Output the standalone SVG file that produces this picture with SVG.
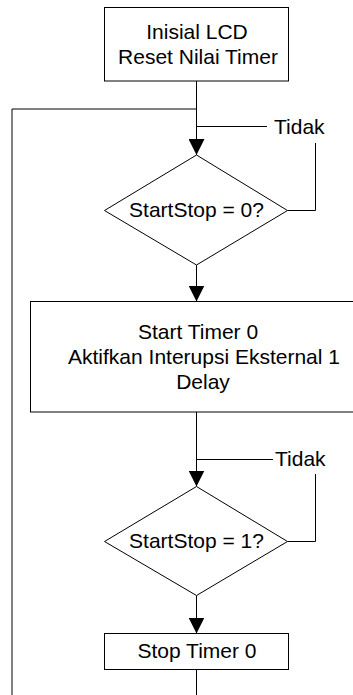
<svg xmlns="http://www.w3.org/2000/svg" width="353" height="695" viewBox="0 0 353 695">
<style>
.box{fill:#fff;stroke:#000;stroke-width:1}
.t{font-family:"Liberation Sans",Arial,sans-serif;font-size:21px;fill:#000;text-anchor:middle}
.tl{font-family:"Liberation Sans",Arial,sans-serif;font-size:21px;fill:#000;text-anchor:start}
.c{fill:none;stroke:#000;stroke-width:1}
</style>
<defs>
<marker id="arr" markerUnits="userSpaceOnUse" markerWidth="16" markerHeight="16" viewBox="0 0 15 15" refX="15" refY="7.5" orient="auto">
<path d="M0,0 L15,7.5 L0,15 Z" fill="#000"/>
</marker>
</defs>
<rect width="353" height="695" fill="#fff"/>
<g id="connectors">
<line class="c" x1="196.5" y1="81" x2="196.5" y2="155" marker-end="url(#arr)"/>
<polyline class="c" points="196.5,109 12,109 12,695"/>
<line class="c" x1="196.5" y1="126.5" x2="267" y2="126.5"/>
<polyline class="c" points="287.5,210.5 315.5,210.5 315.5,143"/>
<line class="c" x1="196.5" y1="265" x2="196.5" y2="301.5" marker-end="url(#arr)"/>
<line class="c" x1="196.5" y1="412" x2="196.5" y2="486.5" marker-end="url(#arr)"/>
<line class="c" x1="196.5" y1="459.5" x2="273" y2="459.5"/>
<polyline class="c" points="287.5,541.5 315.5,541.5 315.5,474"/>
<line class="c" x1="196.5" y1="595.5" x2="196.5" y2="633.5" marker-end="url(#arr)"/>
<line class="c" x1="196.5" y1="669.5" x2="196.5" y2="695"/>
<text class="tl" x="274" y="134">Tidak</text>
<text class="tl" x="275" y="466">Tidak</text>
</g>
<g id="init">
<rect class="box" x="104.5" y="7.5" width="184" height="73.5"/>
<text class="t" x="197" y="39">Inisial LCD</text>
<text class="t" x="198" y="64">Reset Nilai Timer</text>
</g>
<g id="cond0">
<polygon class="box" points="196.5,155 287.5,210.5 196.5,265 104.5,210.5"/>
<text class="t" x="196.5" y="217">StartStop = 0?</text>
</g>
<g id="start">
<rect class="box" x="30.5" y="301.5" width="340" height="110.5"/>
<text class="t" x="198" y="339">Start Timer 0</text>
<text class="t" x="204" y="364">Aktifkan Interupsi Eksternal 1</text>
<text class="t" x="203" y="389">Delay</text>
</g>
<g id="cond1">
<polygon class="box" points="196.5,486.5 287.5,541.5 196.5,595.5 104.5,541.5"/>
<text class="t" x="196.5" y="548">StartStop = 1?</text>
</g>
<g id="stop">
<rect class="box" x="104.5" y="633.5" width="184" height="36"/>
<text class="t" x="197" y="658">Stop Timer 0</text>
</g>
</svg>
